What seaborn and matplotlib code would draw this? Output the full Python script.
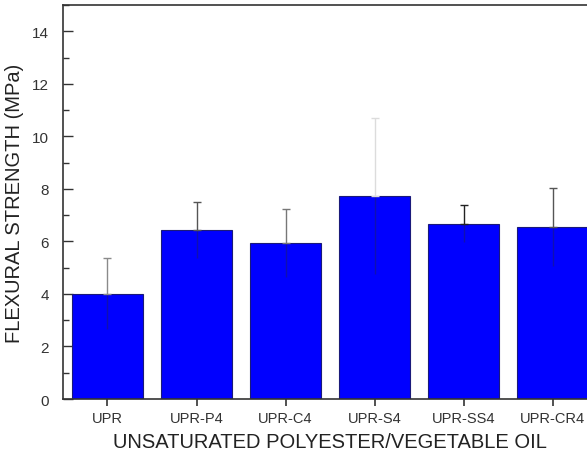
import matplotlib
matplotlib.use("Agg")
import matplotlib.pyplot as plt
import seaborn as sns
import numpy as np
from matplotlib.ticker import MultipleLocator

# Data
categories = ["UPR", "UPR-P4", "UPR-C4", "UPR-S4", "UPR-SS4", "UPR-CR4"]
strength = [4.0, 6.42, 5.95, 7.72, 6.68, 6.55]
err_upper = [1.35, 1.07, 1.29, 2.97, 0.70, 1.47]
err_lower = [1.35, 1.07, 1.29, 2.97, 0.70, 1.47]
err_colors = ["#8a8a8a", "#555555", "#777777", "#dcdcdc", "#222222", "#555555"]

sns.set_style("white")
plt.rcParams["font.family"] = ["Liberation Sans", "DejaVu Sans"]

fig = plt.figure(figsize=(5.87, 4.6), dpi=100)
ax = fig.add_axes([0.1073, 0.1304, 0.91, 0.8565])

sns.barplot(x=categories, y=strength, color="#0000ff", saturation=1,
            edgecolor="#1a1a7a", linewidth=0.8, width=0.8, errorbar=None, ax=ax)

xpos = np.arange(len(categories))
for i in range(len(categories)):
    # lower half sits inside the bar, barely visible
    ax.errorbar(xpos[i], strength[i], yerr=[[err_lower[i]], [0]], fmt="none",
                ecolor="#1010b0", elinewidth=1.0, capsize=0, zorder=3)
    ax.errorbar(xpos[i], strength[i], yerr=[[0], [err_upper[i]]], fmt="none",
                ecolor=err_colors[i], elinewidth=1.0, capsize=3, capthick=1.0,
                zorder=4)

ax.set_xlim(-0.5, 5.5)
ax.set_ylim(0, 15)
ax.yaxis.set_major_locator(MultipleLocator(2))
ax.yaxis.set_minor_locator(MultipleLocator(1))
ax.tick_params(axis="y", which="major", direction="in", length=7, width=1,
               labelsize=11, labelcolor="#333333", color="#333333", left=True,
               pad=10)
ax.tick_params(axis="y", which="minor", direction="in", length=4, width=1,
               color="#333333", left=True)
ax.tick_params(axis="x", which="major", direction="out", length=5, width=1.2,
               labelsize=10.5, labelcolor="#333333", color="#333333",
               bottom=True)
ax.set_yticks(range(0, 15, 2))

for side in ["left", "bottom", "top"]:
    ax.spines[side].set_color("#333333")
    ax.spines[side].set_linewidth(1.2)
ax.spines["right"].set_visible(False)

ax.set_xlabel("UNSATURATED POLYESTER/VEGETABLE OIL", fontsize=14.5,
              color="#222222", labelpad=5)
ax.set_ylabel("FLEXURAL STRENGTH (MPa)", fontsize=14.5, color="#222222",
              labelpad=6)

fig.savefig("out.png", dpi=100)
